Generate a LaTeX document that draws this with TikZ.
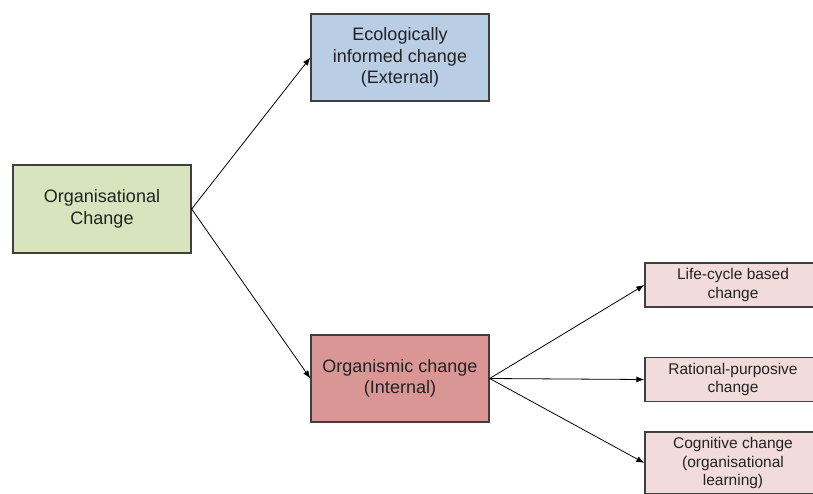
\documentclass[tikz,border=0pt]{standalone}
\usepackage{fontspec}
\setmainfont{Liberation Sans}
\usetikzlibrary{arrows.meta}
\definecolor{rootfill}{HTML}{D7E4BD}
\definecolor{extfill}{HTML}{B9CDE5}
\definecolor{intfill}{HTML}{D99694}
\definecolor{subfill}{HTML}{F2DCDB}
\definecolor{edge}{HTML}{3F3F3F}
\definecolor{ink}{HTML}{222222}
\tikzset{
  box/.style={draw=edge, line width=1.3pt, align=center, text=ink, inner sep=0pt,
    font=\fontsize{18}{21.5}\selectfont},
  bigbox/.style={box, minimum width=178pt, minimum height=87pt},
  smallbox/.style={box, fill=subfill, minimum width=176pt, minimum height=44pt,
    font=\fontsize{15.5}{18.5}\selectfont},
  link/.style={draw=black, line width=0.8pt, -{Latex[length=8pt,width=6pt]}}
}
\begin{document}
\begin{tikzpicture}[x=1pt,y=-1pt]
  \useasboundingbox (0,0) rectangle (813,493);
  \clip (0,0) rectangle (813,493);
  % main boxes
  \node[bigbox, fill=rootfill, minimum height=88pt] (root) at (102,209) {Organisational\\Change};
  \node[bigbox, fill=extfill] (ext) at (400,57.5) {Ecologically\\informed change\\(External)};
  \node[bigbox, fill=intfill] (int) at (400,378.5) {Organismic change\\(Internal)};
  % sub-types of internal change
  \node[smallbox] (life) at (733,285) {Life-cycle based\\change};
  \node[smallbox] (rational) at (733,379.5) {Rational-purposive\\change};
  \node[smallbox, minimum height=62pt] (cognitive) at (733,463) {Cognitive change\\(organisational\\learning)};
  % connectors
  \draw[link] (root.east) -- (ext.west);
  \draw[link] (root.east) -- (int.west);
  \draw[link] (int.east) -- (life.west);
  \draw[link] (int.east) -- (rational.west);
  \draw[link] (int.east) -- (cognitive.west);
\end{tikzpicture}
\end{document}
